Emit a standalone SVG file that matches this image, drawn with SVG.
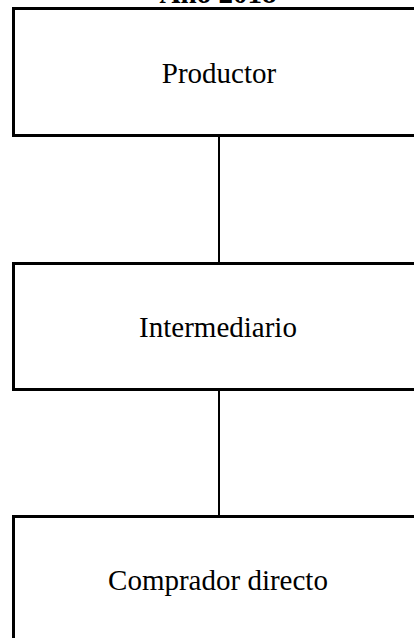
<svg xmlns="http://www.w3.org/2000/svg" width="414" height="638" viewBox="0 0 414 638">
<style>
.box{fill:#fff;stroke:#000;stroke-width:3}
.lbl{font-family:"Liberation Serif","Times New Roman",serif;font-size:29px;fill:#000;text-anchor:middle}
.title{font-weight:bold}
.conn{stroke:#000;stroke-width:2;fill:none}
</style>
<rect width="414" height="638" fill="#fff"/>
<text class="lbl title" x="218" y="3">Año 2018</text>
<g id="connectors">
<line class="conn" x1="219" y1="137" x2="219" y2="262"/>
<line class="conn" x1="219" y1="391" x2="219" y2="515"/>
</g>
<g id="productor">
<rect class="box" x="13.5" y="8.5" width="500" height="127"/>
<text class="lbl" x="219" y="83">Productor</text>
</g>
<g id="intermediario">
<rect class="box" x="13.5" y="263.5" width="500" height="126"/>
<text class="lbl" x="218" y="337">Intermediario</text>
</g>
<g id="comprador">
<rect class="box" x="13.5" y="516.5" width="500" height="200"/>
<text class="lbl" x="218" y="590">Comprador directo</text>
</g>
</svg>
